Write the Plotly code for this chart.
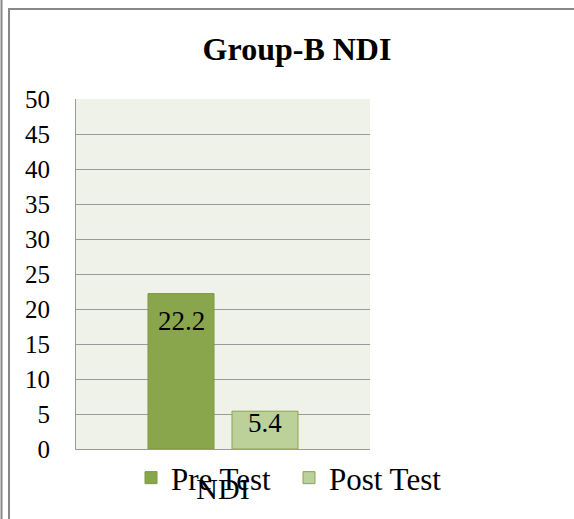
import plotly.graph_objects as go

categories = ["NDI"]
series_names = ["Pre Test", "Post Test"]
pre_values = [22.2]
post_values = [5.4]
tick_vals = [0, 5, 10, 15, 20, 25, 30, 35, 40, 45, 50]

W, H = 574, 519
L, R, T, B = 76, 370, 99, 449
pw, ph = R - L, B - T

def px(x):
    return (x - L) / pw

def py(y):
    return (B - y) / ph

FONT = "'Liberation Serif', 'Times New Roman', Times, serif"

fig = go.Figure()
fig.add_trace(go.Bar(
    name=series_names[0], x=categories, y=pre_values,
    marker=dict(color="#8AA64C", line=dict(color="#7C9843", width=1)),
))
fig.add_trace(go.Bar(
    name=series_names[1], x=categories, y=post_values,
    marker=dict(color="#BBD199", line=dict(color="#8AA64C", width=1)),
))

# data labels
for vals, xs, ys in ((pre_values, -42, -10), (post_values, 42, 5)):
    for c, v in zip(categories, vals):
        fig.add_annotation(x=c, y=v, text=f"{v}", showarrow=False,
                           xshift=xs, yshift=ys, yanchor="top",
                           font=dict(family=FONT, size=27, color="#000"))

fig.update_layout(
    width=W, height=H,
    margin=dict(l=L, r=W - R, t=T, b=H - B, autoexpand=False),
    paper_bgcolor="white",
    plot_bgcolor="#EFF2E9",
    barmode="group",
    bargap=0.4286,
    bargroupgap=0.214,
    title=dict(text="<b>Group-B NDI</b>", x=297 / W, y=1 - 49 / H,
               xref="container", yref="container",
               xanchor="center", yanchor="middle",
               font=dict(family=FONT, size=32, color="#000")),
    showlegend=True,
    legend=dict(orientation="h", xref="paper", yref="paper",
                x=px(447), xanchor="right",
                y=py(478), yanchor="middle",
                font=dict(family=FONT, size=31, color="#000"),
                itemwidth=30, entrywidth=113,
                bgcolor="rgba(0,0,0,0)", traceorder="normal"),
    font=dict(family=FONT, color="#000"),
)
fig.update_yaxes(range=[0, 50], tickvals=tick_vals, automargin=False,
                 showgrid=True, gridcolor="#9A9A9A", gridwidth=1,
                 showline=True, linecolor="#9A9A9A", linewidth=1,
                 zeroline=False, ticks="", ticklabelstandoff=20,
                 tickfont=dict(family=FONT, size=25, color="#000"),
                 fixedrange=True)
fig.update_xaxes(showline=True, linecolor="#9A9A9A", linewidth=1,
                 automargin=False,
                 ticks="", ticklabelstandoff=13,
                 tickfont=dict(family=FONT, size=30, color="#000"),
                 fixedrange=True)

# outer frame lines
fig.add_shape(type="line", xref="paper", yref="paper",
              x0=px(1.5), x1=px(1.5), y0=py(H + 5), y1=py(-5),
              line=dict(color="#888888", width=2))
fig.add_shape(type="rect", xref="paper", yref="paper",
              x0=px(9), x1=px(W + 20), y0=py(H + 20), y1=py(9),
              line=dict(color="#888888", width=2))

fig.write_html("out.html", config={"displayModeBar": False},
               post_script="document.body.style.margin='0';document.body.style.overflow='hidden';")
